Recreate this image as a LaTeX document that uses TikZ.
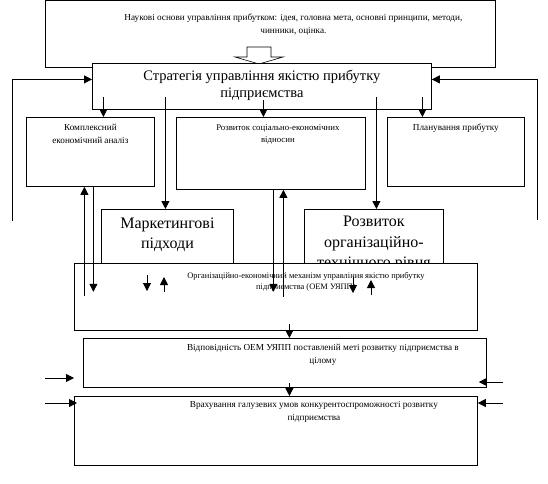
\documentclass[tikz,border=0pt]{standalone}
\usepackage{fontspec}
\setmainfont{Liberation Serif}
\usetikzlibrary{arrows.meta,positioning}

\begin{document}
\begin{tikzpicture}[
  x=1pt, y=-1pt,
  line width=0.8pt,
  box/.style={draw, fill=white, anchor=north west, inner sep=0pt},
  smalltxt/.style={font=\fontsize{9.2}{12.5}\selectfont, align=center,
    anchor=north, inner sep=0pt},
  tinytxt/.style={font=\fontsize{8.4}{11}\selectfont, align=center,
    anchor=north, inner sep=0pt},
  bigtxt/.style={font=\fontsize{14.5}{17}\selectfont, align=center,
    anchor=north, inner sep=0pt},
  hugetxt/.style={font=\fontsize{16}{20.5}\selectfont, align=center,
    anchor=north, inner sep=0pt},
  flowline/.style={-{Triangle[length=8pt, width=8pt]}},
]
  \useasboundingbox (0,0) rectangle (548,483);

  % top: scientific basis
  \node[box, minimum width=450pt, minimum height=67pt,
    label={[smalltxt, xshift=23pt, yshift=-14pt]north:Наукові основи управління прибутком: ідея, головна мета, основні принципи, методи,\\чинники, оцінка.}]
    (osn) at (45,0) {};
  \draw[fill=white, line width=0.6pt] (247,57) -- (247,47) -- (271,47) -- (271,57)
    -- (283,57) -- (259,64) -- (235,57) -- cycle;

  % strategy
  \node[box, minimum width=339pt, minimum height=46pt,
    label={[bigtxt, yshift=-7pt]north:Стратегія управління якістю прибутку\\підприємства}]
    (strat) at (92,63) {};

  % second row
  \node[box, minimum width=128pt, minimum height=69pt,
    label={[smalltxt, yshift=-7pt]north:Комплексний\\економічний аналіз}]
    (kompl) at (26,117) {};
  \node[box, minimum width=189pt, minimum height=72pt,
    label={[smalltxt, font=\fontsize{8.8}{12.5}\selectfont, xshift=7pt, yshift=-7pt]north:Розвиток соціально-економічних\\відносин}]
    (soc) at (176,117) {};
  \node[box, minimum width=137pt, minimum height=69pt,
    label={[smalltxt, yshift=-7pt]north:Планування прибутку}]
    (plan) at (387,117) {};

  % third row
  \node[box, minimum width=132pt, minimum height=70pt,
    label={[hugetxt, yshift=-8pt]north:Маркетингові\\підходи}]
    (market) at (101,209) {};
  \node[box, minimum width=139pt, minimum height=70pt,
    label={[hugetxt, yshift=-7pt]north:Розвиток\\організаційно-\\технічного рівня}]
    (orgtech) at (304,209) {};

  % mechanism and below
  \node[box, minimum width=403pt, minimum height=67pt,
    label={[tinytxt, xshift=30pt, yshift=-9pt]north:Організаційно-економічний механізм управління якістю прибутку\\підприємства (ОЕМ УЯПП)}]
    (oem) at (74,263) {};
  \node[box, minimum width=403pt, minimum height=49pt,
    label={[smalltxt, xshift=38pt, yshift=-6pt]north:Відповідність ОЕМ УЯПП поставленій меті розвитку підприємства в\\цілому}]
    (vidp) at (83,338) {};
  \node[box, minimum width=403pt, minimum height=69pt,
    label={[smalltxt, xshift=38pt, yshift=-5pt]north:Врахування галузевих умов конкурентоспроможності розвитку\\підприємства}]
    (vrakh) at (74,396) {};

  % feedback to the strategy
  \coordinate (lfree) at (12,221);
  \coordinate (rfree) at (537,220);
  \draw[flowline] (lfree) |- ([yshift=7pt]strat.west);
  \draw[flowline] (rfree) |- ([yshift=7pt]strat.east);

  % strategy down
  \draw[flowline] ([xshift=13pt]kompl.north) ++(0,-20) -- ([xshift=13pt]kompl.north);
  \draw[flowline] ([xshift=-7.5pt]soc.north) ++(0,-17) -- ([xshift=-7.5pt]soc.north);
  \draw[flowline] ([xshift=-33.5pt]plan.north) ++(0,-20) -- ([xshift=-33.5pt]plan.north);
  \draw[flowline] ([xshift=-2pt]market.north) ++(0,-112) -- ([xshift=-2pt]market.north);
  \draw[flowline] ([xshift=2.5pt]orgtech.north) ++(0,-112) -- ([xshift=2.5pt]orgtech.north);

  % between second row and mechanism
  \draw[flowline] ([xshift=-6pt]kompl.south) ++(0,109) -- ([xshift=-6pt]kompl.south);
  \draw[flowline] ([xshift=3pt]kompl.south) -- ++(0,105);
  \draw[flowline] ([xshift=2.5pt]soc.south) -- ++(0,102);
  \draw[flowline] ([xshift=12.5pt]soc.south) ++(0,107) -- ([xshift=12.5pt]soc.south);
  \draw[flowline] ([shift={(73,12)}]oem.north west) -- ++(0,16);
  \draw[flowline] ([shift={(90,29)}]oem.north west) -- ++(0,-15);
  \draw[flowline] ([shift={(279,14)}]oem.north west) -- ++(0,16);
  \draw[flowline] ([shift={(297,32)}]oem.north west) -- ++(0,-15);

  % down the chain
  \draw[flowline] ([xshift=13.5pt]oem.south) ++(0,-7) -- ([xshift=4.5pt]vidp.north);
  \draw[flowline] ([xshift=4.5pt]vidp.south) ++(0,-5) -- ([xshift=13.5pt]vrakh.north);

  % side inputs
  \coordinate (lin1) at (45,378);
  \coordinate (lin2) at (45,403);
  \coordinate (rin1) at (503,382);
  \coordinate (rin2) at (503,403);
  \draw[flowline, shorten >=9pt] (lin1) -- (lin1 -| vidp.west);
  \draw[flowline, shorten >=-3pt] (lin2) -- (lin2 -| vrakh.west);
  \draw[flowline, shorten >=-8pt] (rin1) -- (rin1 -| vidp.east);
  \draw[flowline] (rin2) -- (rin2 -| vrakh.east);
\end{tikzpicture}
\end{document}
